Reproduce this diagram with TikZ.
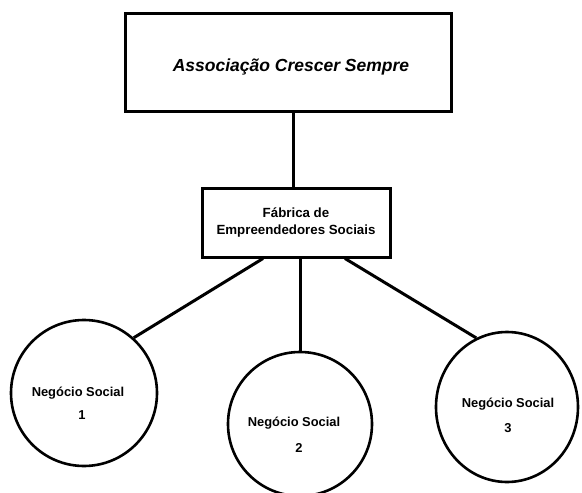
\documentclass[tikz,border=0pt]{standalone}
\usepackage{fontspec}
\setmainfont{Liberation Sans}
\usetikzlibrary{shapes.geometric}
\begin{document}
\begin{tikzpicture}[x=1pt,y=-1pt,
  box/.style={draw=black,line width=3pt,fill=white,inner sep=0pt,font=\bfseries,align=center},
  circ/.style={draw=black,line width=2.6pt,circle,inner sep=0pt,minimum size=144pt,font=\fontsize{12}{24}\selectfont\bfseries,align=center},
  lbl/.style={font=\fontsize{12.9}{15}\selectfont\bfseries},
  link/.style={line width=3pt}]
\useasboundingbox[fill=white] (0,0) rectangle (582,493);
\node[box,minimum width=326pt,minimum height=98pt] (top) at (288,62) {};
\node[font=\fontsize{17.5}{19}\selectfont\bfseries\itshape] (ttl) at (291,67) {Associação Crescer Sempre};
\node[box,minimum width=188pt,minimum height=69pt,font=\fontsize{13.3}{17}\selectfont\bfseries] (mid) at (296,222.5) {Fábrica de\\Empreendedores Sociais};
\node[circ,minimum size=146pt] (c1) at (84,393) {};
\node[circ] (c2) at (300,424) {};
\node[circ,ellipse,minimum width=142pt,minimum height=150pt] (c3) at (507,407) {};
\node[lbl] (t1) at (78,393) {Negócio Social};
\node[lbl] (n1) at (82,415) {1};
\node[lbl] (t2) at (294,423) {Negócio Social};
\node[lbl] (n2) at (299,448) {2};
\node[lbl] (t3) at (508,404) {Negócio Social};
\node[lbl] (n3) at (508,428) {3};
\draw[link] ([xshift=5pt]top.south) -- ([xshift=-3pt]mid.north);
\draw[link] ([xshift=-33pt]mid.south) -- (c1.48);
\draw[link] ([xshift=4pt]mid.south) -- (c2.north);
\draw[link] ([xshift=49pt]mid.south) -- (c3.114);
\end{tikzpicture}
\end{document}
